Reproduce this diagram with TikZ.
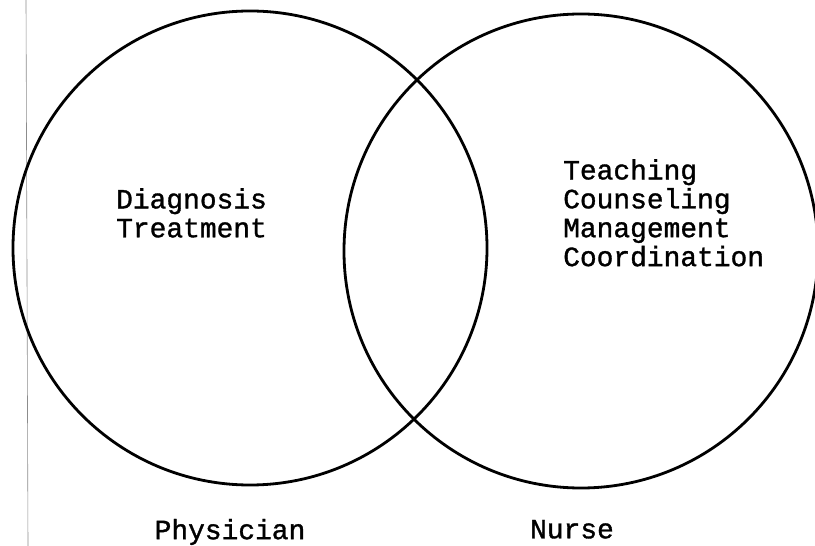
\documentclass[tikz,border=0pt]{standalone}
\usepackage{fontspec}
\newfontfamily\typer[FakeBold=1.2]{Liberation Mono}
\usetikzlibrary{positioning}

\begin{document}
\begin{tikzpicture}[x=1bp, y=-1bp, every node/.style={font=\typer\fontsize{28}{29}\selectfont}, venn/.style={draw, circle, line width=2.8bp, minimum size=474bp, inner sep=0pt}, duty/.style={align=left, inner sep=0pt, anchor=north west}]
		\useasboundingbox (0,0) rectangle (815,546);
		% scan edge
		\draw[black!45, line width=0.6bp] (26,0) -- (28,546);
		% Physician circle
		\node[venn] (phys) at (250,248) {};
		\node[duty] (physduty) at (116,188) {Diagnosis\\Treatment};
		\node[below=29bp, xshift=-20bp] (physname) at (phys.south) {Physician};
		% Nurse circle
		\node[venn] (nurse) at (581,251) {};
		\node[duty] (nurseduty) at (563,159) {Teaching\\Counseling\\Management\\Coordination};
		\node[below=27bp, xshift=-9bp] (nursename) at (nurse.south) {Nurse};
	\end{tikzpicture}
\end{document}
